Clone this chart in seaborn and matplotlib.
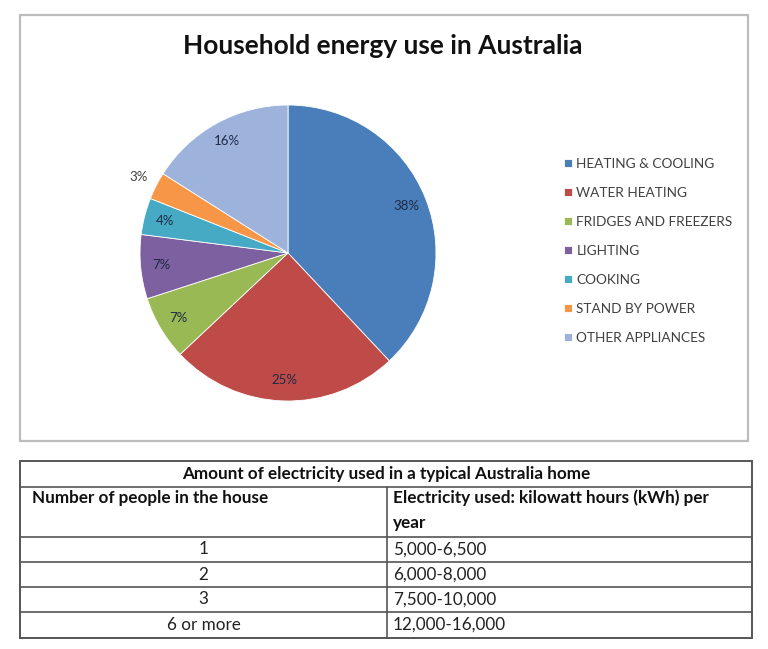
import matplotlib
matplotlib.use("Agg")
import matplotlib.pyplot as plt
from matplotlib.patches import Rectangle
import seaborn as sns
import numpy as np

sns.set_theme(style="white")
plt.rcParams['font.family'] = ['Lato', 'DejaVu Sans']

# ---- data ----
title = "Household energy use in Australia"
categories = ["HEATING & COOLING", "WATER HEATING", "FRIDGES AND FREEZERS",
              "LIGHTING", "COOKING", "STAND BY POWER", "OTHER APPLIANCES"]
shares = [38, 25, 7, 7, 4, 3, 16]
colors = ["#4A7EBB", "#BE4B48", "#98B954", "#7D60A0", "#46AAC5", "#F79646", "#9DB3DC"]

table_title = "Amount of electricity used in a typical Australia home"
col_headers = ["Number of people in the house",
               "Electricity used: kilowatt hours (kWh) per\nyear"]
people = ["1", "2", "3", "6 or more"]
kwh = ["5,000-6,500", "6,000-8,000", "7,500-10,000", "12,000-16,000"]

W, H = 768, 649
fig = plt.figure(figsize=(W / 100, H / 100), dpi=100)
fig.patch.set_facecolor("white")

# background axes in pixel coordinates
bg = fig.add_axes([0, 0, 1, 1])
bg.set_xlim(0, W)
bg.set_ylim(H, 0)
bg.axis("off")

# chart box
bg.add_patch(Rectangle((20, 15), 728, 426, fill=False, edgecolor="#BDBDBD", lw=1.6))
bg.text(383, 46, title, ha="center", va="center", fontsize=19, fontweight="bold", color="#111111")

# pie axes
cx, cy, r = 288, 253, 148
pax = fig.add_axes([(cx - r) / W, 1 - (cy + r) / H, 2 * r / W, 2 * r / H])
wedges, texts, autotexts = pax.pie(
    shares, colors=colors, startangle=90, counterclock=False,
    autopct=lambda p: f"{p:.0f}%", pctdistance=0.86,
    wedgeprops=dict(edgecolor="white", linewidth=0.6),
    textprops=dict(fontsize=9.5, color="#1F2A44"))
pax.set_xlim(-1, 1)
pax.set_ylim(-1, 1)
# small slice label outside
for w, t, v in zip(wedges, autotexts, shares):
    if v <= 3:
        ang = np.deg2rad((w.theta1 + w.theta2) / 2)
        t.set_position((1.13 * np.cos(ang), 1.13 * np.sin(ang)))
        t.set_color("#404040")

# legend
leg = fig.legend(wedges, categories, loc="center left",
                 bbox_to_anchor=(552 / W, 1 - 251 / H), frameon=False,
                 fontsize=9.8, labelspacing=1.25, handlelength=0.55, handleheight=0.55,
                 handletextpad=0.35, labelcolor="#404040")

# table
x0, x1, xm = 20, 752, 387
rows_y = [461, 487, 537, 562, 587, 612, 638]
tc = "#555555"
bg.add_patch(Rectangle((x0, rows_y[0]), x1 - x0, rows_y[-1] - rows_y[0], fill=False, edgecolor=tc, lw=1.4))
for y in rows_y[1:-1]:
    bg.plot([x0, x1], [y, y], color=tc, lw=1.2)
bg.plot([xm, xm], [rows_y[1], rows_y[-1]], color=tc, lw=1.2)

fs = 12.3
bg.text((x0 + x1) / 2, (rows_y[0] + rows_y[1]) / 2, table_title, ha="center", va="center",
        fontsize=fs, fontweight="bold", color="#111111")
bg.text(32, 498, col_headers[0], ha="left", va="center", fontsize=fs, fontweight="bold", color="#111111")
bg.text(393, 498, col_headers[1].split("\n")[0], ha="left", va="center", fontsize=fs, fontweight="bold", color="#111111")
bg.text(393, 523, col_headers[1].split("\n")[1], ha="left", va="center", fontsize=fs, fontweight="bold", color="#111111")
for i, (p, k) in enumerate(zip(people, kwh)):
    yc = (rows_y[2 + i] + rows_y[3 + i]) / 2
    bg.text((x0 + xm) / 2, yc, p, ha="center", va="center", fontsize=fs, color="#222222")
    bg.text(393, yc, k, ha="left", va="center", fontsize=fs, color="#222222")

fig.savefig("out.png", dpi=100, facecolor="white")
